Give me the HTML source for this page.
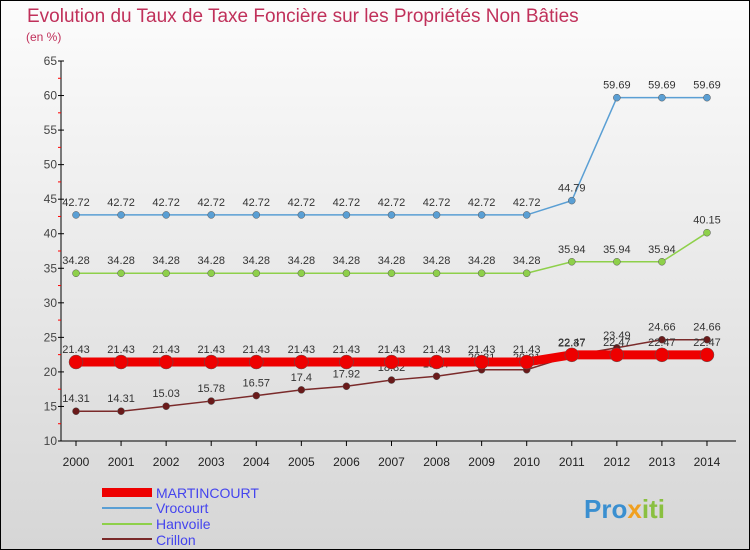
<!DOCTYPE html>
<html><head><meta charset="utf-8"><style>
body{margin:0;}
#c{width:748px;height:548px;border:1px solid #000;background:linear-gradient(#fcfcfc,#d6d6d6);position:relative;overflow:hidden;font-family:"Liberation Sans",sans-serif;}
</style></head><body>
<div id="c">
<svg id="s" width="748" height="548" style="position:absolute;left:0;top:0">
<text x="26" y="21" font-size="19" fill="#c0305a">Evolution du Taux de Taxe Foncière sur les Propriétés Non Bâties</text>
<text x="25" y="40" font-size="12" fill="#c0305a">(en %)</text>
<g id="ax"></g><g id="ser"></g>
<g>
<rect x="101" y="487" width="50" height="9" fill="#ee0000"/>
<text x="155" y="497" font-size="14" fill="#4444ee">MARTINCOURT</text>
<line x1="101" y1="507" x2="151" y2="507" stroke="#5a9fd4" stroke-width="2"/>
<text x="155" y="512" font-size="14" fill="#4444ee">Vrocourt</text>
<line x1="101" y1="523" x2="151" y2="523" stroke="#8ed04a" stroke-width="2"/>
<text x="155" y="528" font-size="14" fill="#4444ee">Hanvoile</text>
<line x1="101" y1="538" x2="151" y2="538" stroke="#7a2a2a" stroke-width="2"/>
<text x="155" y="544" font-size="14" fill="#4444ee">Crillon</text>
</g>
<text x="583" y="517" font-size="26" font-weight="bold" fill="#3a8fd0">Pro<tspan fill="#f0a020">x</tspan><tspan fill="#8ac040">iti</tspan></text>
</svg>
</div>
<script>
const years=[2000,2001,2002,2003,2004,2005,2006,2007,2008,2009,2010,2011,2012,2013,2014];
const yTicks=[10,15,20,25,30,35,40,45,50,55,60,65];
const martincourt=[21.43,21.43,21.43,21.43,21.43,21.43,21.43,21.43,21.43,21.43,21.43,22.47,22.47,22.47,22.47];
const vrocourt=[42.72,42.72,42.72,42.72,42.72,42.72,42.72,42.72,42.72,42.72,42.72,44.79,59.69,59.69,59.69];
const hanvoile=[34.28,34.28,34.28,34.28,34.28,34.28,34.28,34.28,34.28,34.28,34.28,35.94,35.94,35.94,40.15];
const crillon=[14.31,14.31,15.03,15.78,16.57,17.4,17.92,18.82,19.37,20.31,20.31,22.37,23.49,24.66,24.66];
const NS="http://www.w3.org/2000/svg";
const X=i=>75+i*45.07, Y=v=>440-(v-10)*380/55;
function mk(t,a,p){const e=document.createElementNS(NS,t);for(const k in a)e.setAttribute(k,a[k]);p.appendChild(e);return e;}
const ax=document.getElementById('ax'),ser=document.getElementById('ser');
const yl=mk('line',{x1:60,y1:60,x2:60,y2:440,stroke:'#000'},ax);


const xl=mk('line',{x1:60,y1:440,x2:735,y2:440,stroke:'#000'},ax);


yTicks.forEach((v,i)=>{
 mk('line',{x1:57,y1:Y(v),x2:63,y2:Y(v),stroke:'#000'},ax);
 if(i<yTicks.length-1)mk('line',{x1:57,y1:Y(v+2.5),x2:60,y2:Y(v+2.5),stroke:'#f00'},ax);
 const t=mk('text',{x:56,y:Y(v)+4,'font-size':12,fill:'#444','text-anchor':'end'},ax);t.textContent=v;
 
 
});
years.forEach((y,i)=>{
 mk('line',{x1:X(i),y1:440,x2:X(i),y2:445,stroke:'#000'},ax);
 const t=mk('text',{x:X(i),y:465,'font-size':12,fill:'#222','text-anchor':'middle'},ax);t.textContent=y;
 
 
});
function series(d,col,w,r,name,dot){
 const g=mk('g',{},ser);
 
 
 mk('polyline',{points:d.map((v,i)=>X(i)+','+Y(v)).join(' '),fill:'none',stroke:col,'stroke-width':w},g);
 d.forEach((v,i)=>{
  const c=mk('circle',{cx:X(i),cy:Y(v),r:r,fill:dot,stroke:'#555','stroke-width':0.5},g);
  
  
  const t=mk('text',{x:X(i),y:Y(v)-9,'font-size':11,fill:'#333','text-anchor':'middle'},g);t.textContent=v;
  
  
 });
}
series(vrocourt,'#5a9fd4',1.5,3.5,'vrocourt','#5a9fd4');
series(hanvoile,'#8ed04a',1.5,3.5,'hanvoile','#8ed04a');
series(crillon,'#7a2a2a',1.5,3.5,'crillon','#6a1a1a');
series(martincourt,'#ee0000',9,7,'martincourt','#ee0000');
</script>
</body></html>
